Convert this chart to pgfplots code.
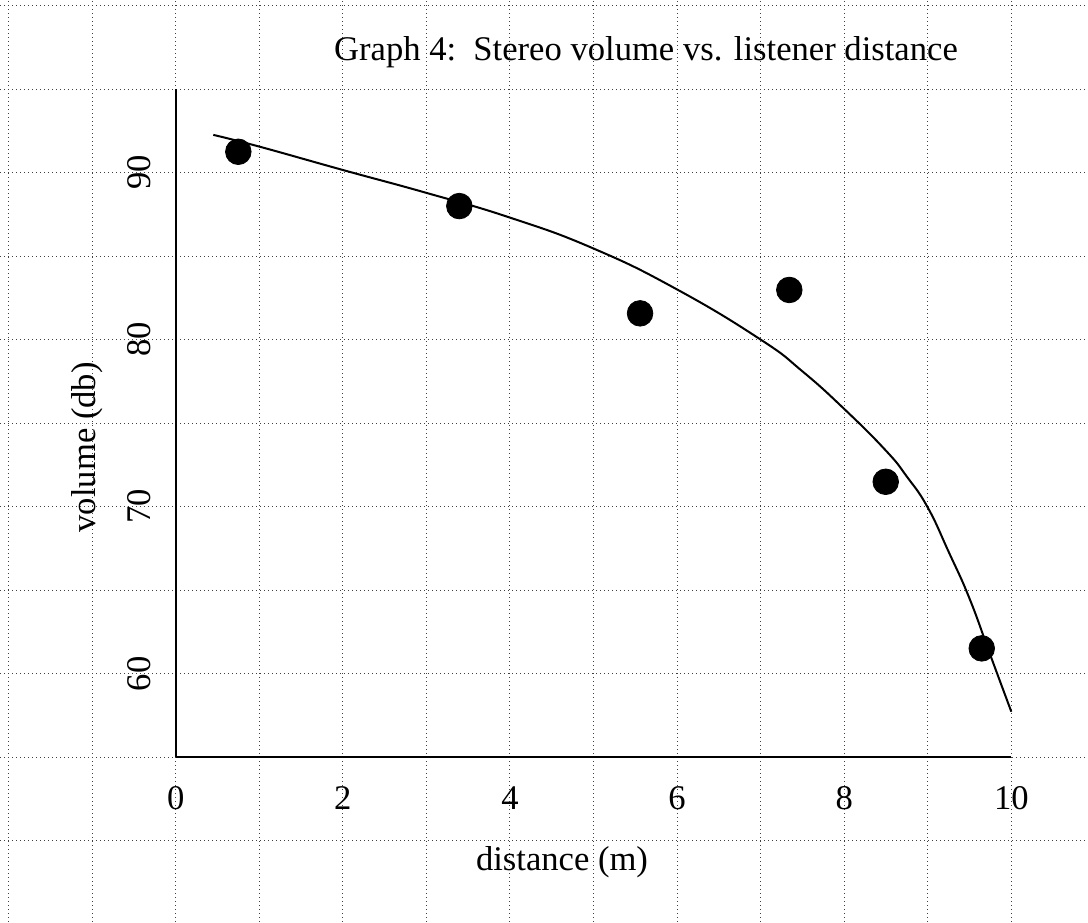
\documentclass[border=0pt]{standalone}
\usepackage{fontspec}
\setmainfont{Liberation Serif}
\usepackage{pgfplots}
\pgfplotsset{compat=1.18}

\newcommand{\chartfont}{\fontsize{17.3}{20}\selectfont}

% fitted curve
\pgfplotstableread{
x y
0.45 92.25
1 91.55
2 90.15
3 88.78
4 87.3
5 85.45
6 83.0
7 80.0
7.5 78.1
8 75.85
8.5 73.35
8.75 71.8
9 69.95
9.25 67.3
9.5 64.5
9.75 61.1
10 57.73
}\fitdata

\pgfplotstableread{
x y
0.749 91.24
3.394 87.99
5.557 81.57
7.343 82.97
8.497 71.49
9.646 61.52
}\pointdata

\begin{document}
\begin{tikzpicture}
% background grid over the whole page
\begin{axis}[
    name=bg,
    at={(0,0)}, anchor=south west,
    scale only axis,
    width=544pt, height=461pt,
    xmin=-2.103, xmax=10.918,
    ymin=45.14, ymax=100.35,
    xtick={-2,-1,...,10},
    ytick={50,55,...,100},
    xticklabels={}, yticklabels={},
    major tick length=0pt,
    grid=major,
    major grid style={black!75, line width=0.5pt, dash pattern=on 0.5pt off 1.5pt},
    axis line style={draw=none},
]
\end{axis}

\begin{axis}[
    at={(87.86pt,82.33pt)}, anchor=south west,
    scale only axis,
    width=417.8pt, height=334.2pt,
    xmin=0, xmax=10,
    ymin=55, ymax=95,
    axis x line=bottom,
    axis y line=left,
    axis line style={-, line width=1pt},
    xtick={0,2,...,10},
    ytick={60,70,80,90},
    major tick length=0pt,
    /pgf/number format/assume math mode=true,
    tick label style={font=\chartfont},
    xticklabel shift=11pt,
    yticklabel style={rotate=90, anchor=south},
    yticklabel shift=8.7pt,
    xlabel={distance (m)},
    ylabel={volume (db)},
    xlabel style={font=\chartfont, at={(axis description cs:0.4623,-0.1687)}, anchor=base},
    ylabel style={font=\chartfont, at={(axis description cs:-0.0957,0.4638)}, anchor=base, rotate=0},
    title={Graph 4:\ \ Stereo volume vs. listener distance},
    title style={font=\chartfont, at={(axis description cs:0.5628,1.0244)}, anchor=base},
    clip=false,
]
\addplot[black, line width=1pt, smooth, tension=0.8] table {\fitdata};
\addplot[only marks, mark=*, mark size=6.4pt, mark options={fill=black, draw=black}] table {\pointdata};
\end{axis}
\pgfresetboundingbox
\useasboundingbox (0,0) rectangle (544pt,461pt);
\end{tikzpicture}
\end{document}
